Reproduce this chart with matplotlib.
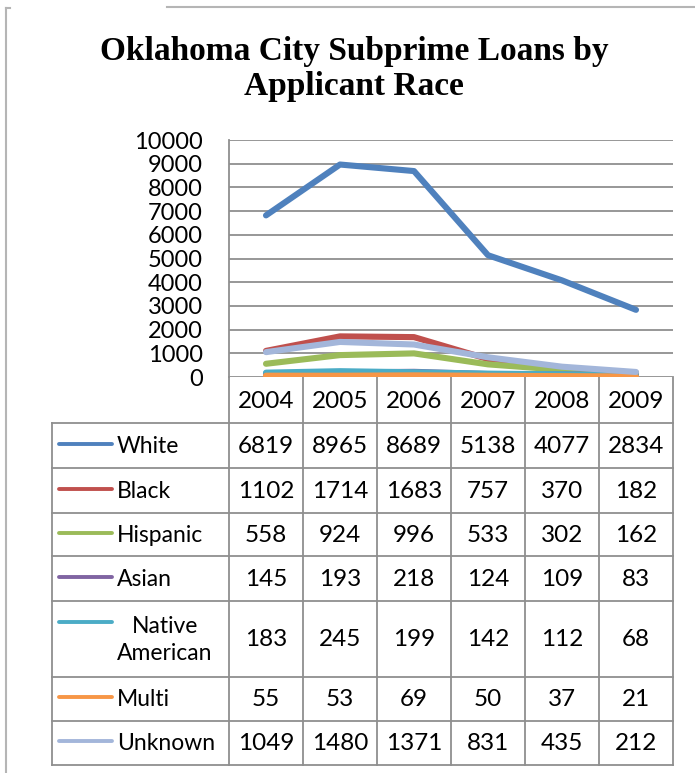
import numpy as np
import matplotlib.pyplot as plt

years = ['2004', '2005', '2006', '2007', '2008', '2009']
races = ['White', 'Black', 'Hispanic', 'Asian', 'Native\nAmerican', 'Multi', 'Unknown']
white = [6819, 8965, 8689, 5138, 4077, 2834]
black = [1102, 1714, 1683, 757, 370, 182]
hispanic = [558, 924, 996, 533, 302, 162]
asian = [145, 193, 218, 124, 109, 83]
native = [183, 245, 199, 142, 112, 68]
multi = [55, 53, 69, 50, 37, 21]
unknown = [1049, 1480, 1371, 831, 435, 212]
series = [white, black, hispanic, asian, native, multi, unknown]
colors = ['#4F81BD', '#C0504D', '#9BBB59', '#8064A2', '#4BACC6', '#F79646', '#A3B6DA']

W, H = 695, 773
fig = plt.figure(figsize=(W / 100, H / 100), dpi=100)
sans = 'Lato'
grid_c = '#8f8f8f'
num_fs = 17.5
lab_fs = 16.5

# pixel layout of the table / plot area
x_left, x_lab, x_right = 52, 229, 673
col_edges = np.linspace(x_lab, x_right, len(years) + 1)
y_top, y_zero = 140, 377
row_edges = [423, 468, 513, 556, 601, 677, 721, 765]

# line chart
ax = fig.add_axes([x_lab / W, 1 - y_zero / H, (x_right - x_lab) / W, (y_zero - y_top) / H])
x = np.arange(len(years))
for vals, c in zip(series, colors):
    ax.plot(x, vals, color=c, lw=4.4, solid_capstyle='round', solid_joinstyle='round')
ax.set_xlim(-0.5, len(years) - 0.5)
ax.set_ylim(0, 10000)
ax.set_yticks(np.arange(0, 10001, 1000))
ax.set_xticks([])
ax.yaxis.grid(True, color=grid_c, lw=1.3)
ax.set_axisbelow(True)
for s in ['top', 'right', 'bottom']:
    ax.spines[s].set_visible(False)
ax.spines['left'].set_color(grid_c)
ax.spines['left'].set_linewidth(1.3)
ax.tick_params(axis='y', length=0, pad=19, labelsize=17)
for t in ax.get_yticklabels():
    t.set_family(sans)

# data table drawn in pixel coordinates
tb = fig.add_axes([0, 0, 1, 1], zorder=-1)
tb.set_xlim(0, W)
tb.set_ylim(H, 0)
tb.axis('off')

# outer frame
tb.plot([6, 6], [8, H], color='#b5b5b5', lw=1.5)
tb.plot([6, 10], [8, 8], color='#b5b5b5', lw=1.5)
tb.plot([167, W], [7, 7], color='#b5b5b5', lw=1.5)

tb.text(354, 69, 'Oklahoma City Subprime Loans by\nApplicant Race', ha='center', va='center',
        fontsize=24, fontweight='bold', family='Liberation Serif', linespacing=1.18)

for xe in col_edges:
    tb.plot([xe, xe], [y_zero, row_edges[-1]], color=grid_c, lw=1.3)
tb.plot([x_left, x_left], [row_edges[0], row_edges[-1]], color=grid_c, lw=1.3)
for ye in row_edges:
    tb.plot([x_left, x_right], [ye, ye], color=grid_c, lw=1.3)

centers = (col_edges[:-1] + col_edges[1:]) / 2
for cx, yr in zip(centers, years):
    tb.text(cx, (y_zero + row_edges[0]) / 2 + 2, yr, ha='center', va='center', fontsize=num_fs, family=sans)

for i, (name, vals, c) in enumerate(zip(races, series, colors)):
    yc = (row_edges[i] + row_edges[i + 1]) / 2 + 1
    if '\n' in name:
        ly = yc - 18
        tb.text(117, yc, name, ha='left', va='center', fontsize=lab_fs, family=sans,
                multialignment='center', linespacing=1.35)
    else:
        ly = yc - 3
        tb.text(117, yc, name, ha='left', va='center', fontsize=lab_fs, family=sans)
    tb.plot([59, 112], [ly, ly], color=c, lw=2.8, solid_capstyle='round')
    for cx, v in zip(centers, vals):
        tb.text(cx, yc, str(v), ha='center', va='center', fontsize=num_fs, family=sans)

fig.savefig('out.png', dpi=100)
